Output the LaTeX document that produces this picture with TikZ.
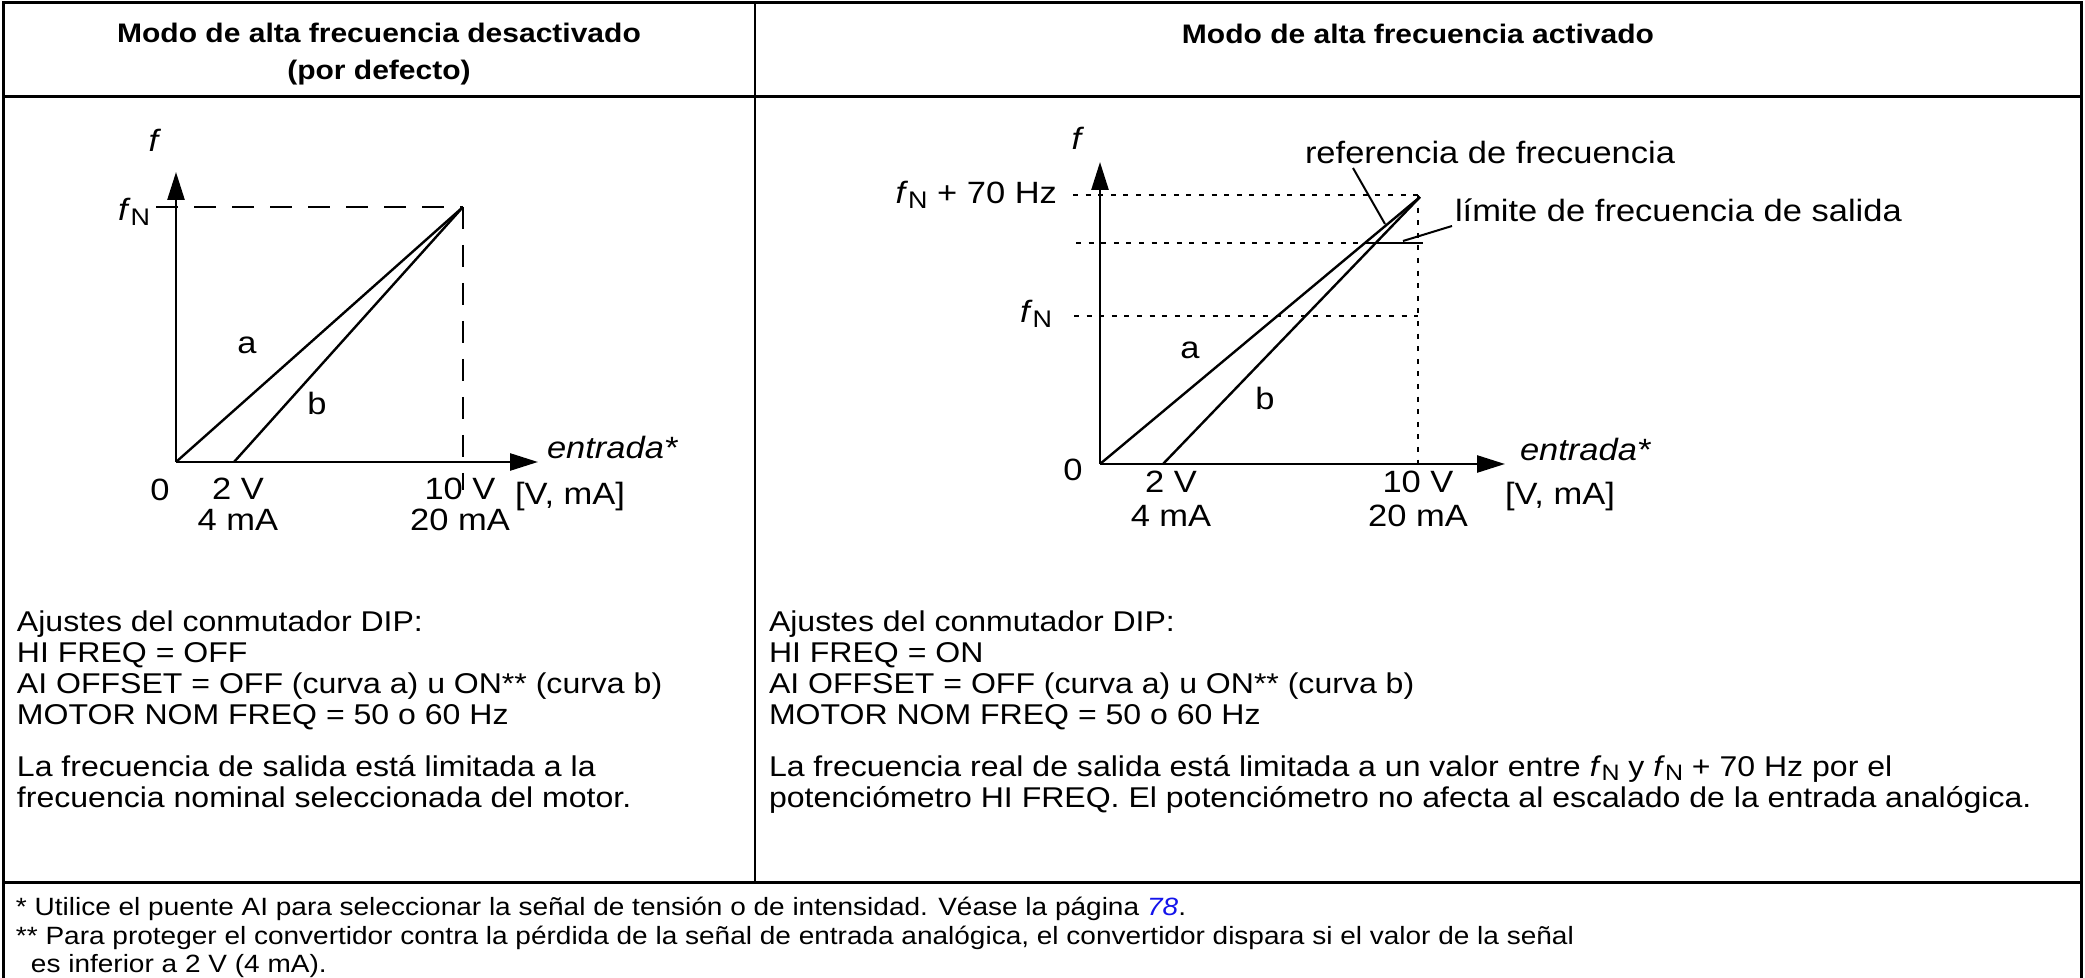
\documentclass[tikz,border=0pt]{standalone}
\usepackage{fontspec}
\setmainfont{Liberation Sans}[FakeStretch=1.12]
\usepackage{xcolor}
\usepackage{tikz}
\usetikzlibrary{arrows.meta,positioning,calc}
\definecolor{linkblue}{RGB}{20,20,235}
\newcommand{\fN}{\textit{f}\raisebox{-0.3ex}{\scalebox{0.78}{N}}}

\begin{document}
\begin{tikzpicture}[
    x=0.5pt, y=-0.5pt,
    every node/.style={inner sep=0pt, outer sep=0pt},
    headtxt/.style={font=\fontsize{13.4}{18.5}\selectfont\bfseries, align=center},
    bodytxt/.style={font=\fontsize{14.3}{15.5}\selectfont, align=left, anchor=north west},
    foottxt/.style={font=\fontsize{12.5}{15}\selectfont, anchor=west},
    lbl/.style={font=\fontsize{15.4}{15}\selectfont, align=center},
    frame/.style={line width=1.5pt},
    divider/.style={line width=1pt},
    axis/.style={-{Triangle[length=14pt,width=8.5pt]}, line width=1.3pt},
    curve/.style={line width=1.2pt},
    dashln/.style={line width=1pt, dash pattern=on 11pt off 8pt},
    dotln/.style={line width=1pt, dash pattern=on 2.5pt off 3.8pt},
    leader/.style={line width=1pt}
]
\useasboundingbox (0,0) rectangle (2085,978);

% table frame
\draw[frame] (3,978) -- (3,3) -- (2081,3) -- (2081,978);
\draw[frame] (3,97) -- (2081,97);
\draw[frame] (3,882) -- (2081,882);
\draw[divider] (755,3) -- (755,882);

% headings
\node[headtxt] (headL) at (379,54) {Modo de alta frecuencia desactivado\\(por defecto)};
\node[headtxt] (headR) at (1418,34) {Modo de alta frecuencia activado};

% left graph
\coordinate (o1) at (176,462);
\coordinate (ytip1) at (176,172);
\coordinate (xtip1) at (538,462);
\coordinate (top1) at (463,207);
\coordinate (b1) at (234,462);
\coordinate (dash1) at (156,207);
\coordinate (vbot1) at (463,490);
\draw[axis] (o1) -- (ytip1);
\draw[axis] (o1) -- (xtip1);
\draw[dashln] (dash1) -- (top1);
\draw[dashln] (top1) -- (vbot1);
\draw[curve] (o1) -- (top1);
\draw[curve] (b1) -- (top1);

\node[lbl] (fL) at (155,140) {\textit{f}};
\node[lbl, anchor=east] (fNL) at (150,212) {\fN};
\node[lbl] (aL) at (247,345) {a};
\node[lbl] (bL) at (317,403) {b};
\node[lbl] (zeroL) at (160,490) {0};
\node[lbl] (twoVL) at (238,489) {2 V};
\node[lbl] (fourmAL) at (238,520) {4 mA};
\node[lbl] (tenVL) at (460,489) {10 V};
\node[lbl] (twentymAL) at (460,520) {20 mA};
\node[lbl, anchor=west] (inL) at (547,448) {\textit{entrada*}};
\node[lbl] (unitL) at (570,497) {[V, mA]};

% right graph
\coordinate (o2) at (1100,464);
\coordinate (ytip2) at (1100,162);
\coordinate (xtip2) at (1505,464);
\coordinate (top2) at (1420,197);
\coordinate (b2) at (1163,464);
\coordinate (vtop2) at (1418,195);
\coordinate (vbot2) at (1418,464);
\coordinate (limS) at (1076,243);
\coordinate (limA) at (1365,243);
\coordinate (limE) at (1423,243);
\coordinate (nomS) at (1074,316);
\coordinate (nomE) at (1418,316);
\coordinate (refS) at (1353,168);
\coordinate (refE) at (1385,224);
\coordinate (limL) at (1403,241);

\node[lbl, anchor=east] (fmaxR) at (1057,195) {\fN{} + 70 Hz};
\node[lbl, anchor=east] (fNR) at (1052,314) {\fN};
\node[lbl] (fR) at (1078,138) {\textit{f}};
\node[lbl, anchor=west] (refR) at (1305,152) {referencia de frecuencia};
\node[lbl, anchor=west] (limR) at (1455,210) {límite de frecuencia de salida};

\draw[dotln] ([xshift=8pt]fmaxR.east) -- (vtop2);
\draw[dotln] (vtop2) -- (vbot2);
\draw[dotln] (limS) -- (limA);
\draw[dotln] (nomS) -- (nomE);
\draw[axis] (o2) -- (ytip2);
\draw[axis] (o2) -- (xtip2);
\draw[curve] (o2) -- (top2);
\draw[curve] (b2) -- (top2);
\draw[curve] (limA) -- (limE);
\draw[leader] (refS) -- (refE);
\draw[leader] (limL) -- ([xshift=-1.5pt,yshift=-8pt]limR.west);

\node[lbl] (aR) at (1190,350) {a};
\node[lbl] (bR) at (1265,398) {b};
\node[lbl] (zeroR) at (1073,470) {0};
\node[lbl] (twoVR) at (1171,482) {2 V};
\node[lbl] (fourmAR) at (1171,516) {4 mA};
\node[lbl] (tenVR) at (1418,482) {10 V};
\node[lbl] (twentymAR) at (1418,516) {20 mA};
\node[lbl, anchor=west] (inR) at (1520,450) {\textit{entrada*}};
\node[lbl, anchor=west] (unitR) at (1505,497) {[V, mA]};

% settings and notes
\node[bodytxt] (dipL) at (17,611) {Ajustes del conmutador DIP:\\HI FREQ = OFF\\AI OFFSET = OFF (curva a) u ON** (curva b)\\MOTOR NOM FREQ = 50 o 60 Hz};
\node[bodytxt] (noteL) at (17,755) {La frecuencia de salida está limitada a la\\frecuencia nominal seleccionada del motor.};
\node[bodytxt] (dipR) at (769,611) {Ajustes del conmutador DIP:\\HI FREQ = ON\\AI OFFSET = OFF (curva a) u ON** (curva b)\\MOTOR NOM FREQ = 50 o 60 Hz};
\node[bodytxt] (noteR) at (769,755) {La frecuencia real de salida está limitada a un valor entre \fN{} y \fN{} + 70 Hz por el\\potenciómetro HI FREQ. El potenciómetro no afecta al escalado de la entrada analógica.};

% footnotes
\node[foottxt] (foot1) at (16,909) {* Utilice el puente AI para seleccionar la señal de tensión o de intensidad. Véase la página \textcolor{linkblue}{\textit{78}}.};
\node[foottxt] (foot2) at (16,938) {** Para proteger el convertidor contra la pérdida de la señal de entrada analógica, el convertidor dispara si el valor de la señal};
\node[foottxt] (foot3) at (31,966) {es inferior a 2 V (4 mA).};

\end{tikzpicture}
\end{document}
